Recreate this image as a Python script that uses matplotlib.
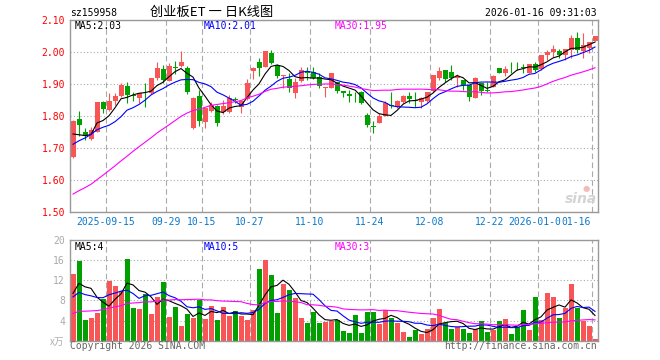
import matplotlib
matplotlib.use("Agg")
import matplotlib.pyplot as plt
import numpy as np
import pandas as pd

# ==========================================
# DATA
# ==========================================
dates = [
    "2025-09-05", "2025-09-08", "2025-09-09", "2025-09-10", "2025-09-11", "2025-09-12",
    "2025-09-15", "2025-09-16", "2025-09-17", "2025-09-18", "2025-09-19", "2025-09-22",
    "2025-09-23", "2025-09-24", "2025-09-25", "2025-09-26", "2025-09-29", "2025-09-30",
    "2025-10-09", "2025-10-10", "2025-10-13", "2025-10-14", "2025-10-15", "2025-10-16",
    "2025-10-17", "2025-10-20", "2025-10-21", "2025-10-22", "2025-10-23", "2025-10-24",
    "2025-10-27", "2025-10-28", "2025-10-29", "2025-10-30", "2025-10-31", "2025-11-03",
    "2025-11-04", "2025-11-05", "2025-11-06", "2025-11-07", "2025-11-10", "2025-11-11",
    "2025-11-12", "2025-11-13", "2025-11-14", "2025-11-17", "2025-11-18", "2025-11-19",
    "2025-11-20", "2025-11-21", "2025-11-24", "2025-11-25", "2025-11-26", "2025-11-27",
    "2025-11-28", "2025-12-01", "2025-12-02", "2025-12-03", "2025-12-04", "2025-12-05",
    "2025-12-08", "2025-12-09", "2025-12-10", "2025-12-11", "2025-12-12", "2025-12-15",
    "2025-12-16", "2025-12-17", "2025-12-18", "2025-12-19", "2025-12-22", "2025-12-23",
    "2025-12-24", "2025-12-25", "2025-12-26", "2025-12-29", "2025-12-30", "2025-12-31",
    "2026-01-05", "2026-01-06", "2026-01-07", "2026-01-08", "2026-01-09", "2026-01-12",
    "2026-01-13", "2026-01-14", "2026-01-15", "2026-01-16",
]

opens = [
    1.672, 1.791, 1.750, 1.729, 1.751, 1.842, 1.819, 1.847, 1.861, 1.892,
    1.864, 1.857, 1.873, 1.873, 1.920, 1.947, 1.908, 1.952, 1.955, 1.949,
    1.761, 1.863, 1.782, 1.816, 1.832, 1.813, 1.813, 1.854, 1.829, 1.852,
    1.939, 1.970, 1.952, 1.998, 1.959, 1.926, 1.916, 1.871, 1.908, 1.939,
    1.936, 1.923, 1.887, 1.887, 1.907, 1.879, 1.869, 1.860, 1.876, 1.803,
    1.769, 1.779, 1.800, 1.834, 1.829, 1.843, 1.863, 1.850, 1.842, 1.847,
    1.878, 1.920, 1.942, 1.936, 1.920, 1.912, 1.897, 1.855, 1.902, 1.881,
    1.891, 1.949, 1.933, 1.957, 1.957, 1.954, 1.935, 1.961, 1.947, 1.989,
    2.001, 2.003, 1.991, 2.006, 2.045, 2.003, 2.012, 2.034,
]
highs = [
    1.787, 1.814, 1.761, 1.765, 1.842, 1.847, 1.873, 1.873, 1.902, 1.907,
    1.876, 1.872, 1.902, 1.920, 1.970, 1.959, 1.964, 1.973, 2.004, 1.955,
    1.860, 1.881, 1.824, 1.844, 1.835, 1.850, 1.865, 1.859, 1.847, 1.915,
    1.954, 1.980, 2.003, 2.006, 1.961, 1.929, 1.934, 1.917, 1.952, 1.952,
    1.952, 1.934, 1.889, 1.933, 1.907, 1.879, 1.881, 1.876, 1.879, 1.808,
    1.784, 1.810, 1.848, 1.876, 1.850, 1.866, 1.876, 1.876, 1.858, 1.876,
    1.928, 1.954, 1.944, 1.959, 1.930, 1.912, 1.897, 1.923, 1.902, 1.907,
    1.928, 1.951, 1.957, 1.970, 1.970, 1.961, 1.961, 1.970, 1.991, 2.006,
    2.022, 2.009, 2.009, 2.053, 2.064, 2.058, 2.032, 2.050,
]
lows = [
    1.669, 1.737, 1.725, 1.725, 1.748, 1.808, 1.814, 1.834, 1.859, 1.840,
    1.845, 1.840, 1.829, 1.868, 1.913, 1.902, 1.908, 1.932, 1.953, 1.869,
    1.758, 1.769, 1.761, 1.812, 1.767, 1.805, 1.810, 1.841, 1.810, 1.850,
    1.915, 1.926, 1.952, 1.962, 1.920, 1.887, 1.876, 1.855, 1.906, 1.913,
    1.914, 1.887, 1.859, 1.887, 1.871, 1.859, 1.842, 1.843, 1.838, 1.765,
    1.745, 1.777, 1.798, 1.824, 1.824, 1.840, 1.840, 1.829, 1.824, 1.842,
    1.876, 1.913, 1.905, 1.913, 1.891, 1.881, 1.847, 1.855, 1.865, 1.876,
    1.891, 1.933, 1.926, 1.933, 1.944, 1.933, 1.933, 1.938, 1.944, 1.975,
    1.985, 1.980, 1.975, 1.980, 1.996, 1.980, 1.996, 2.034,
]
closes = [
    1.784, 1.770, 1.737, 1.756, 1.842, 1.822, 1.845, 1.861, 1.897, 1.864,
    1.861, 1.871, 1.871, 1.920, 1.951, 1.913, 1.957, 1.950, 1.969, 1.876,
    1.855, 1.785, 1.824, 1.834, 1.777, 1.831, 1.855, 1.850, 1.845, 1.904,
    1.951, 1.951, 2.003, 1.964, 1.926, 1.929, 1.887, 1.907, 1.943, 1.934,
    1.918, 1.892, 1.889, 1.933, 1.879, 1.873, 1.861, 1.858, 1.840, 1.770,
    1.766, 1.800, 1.840, 1.831, 1.847, 1.863, 1.853, 1.845, 1.855, 1.876,
    1.928, 1.941, 1.915, 1.920, 1.926, 1.895, 1.860, 1.918, 1.878, 1.879,
    1.926, 1.933, 1.947, 1.955, 1.955, 1.949, 1.961, 1.944, 1.991, 2.001,
    2.009, 1.991, 2.009, 2.045, 2.006, 2.022, 2.032, 2.050,
]
volumes = [
    13.2, 15.9, 4.1, 4.5, 5.5, 8.3, 11.9, 10.9, 9.9, 16.2,
    6.5, 6.3, 9.3, 5.3, 8.7, 11.7, 4.7, 6.7, 2.9, 5.3,
    4.5, 8.1, 4.3, 6.9, 4.1, 6.7, 4.9, 5.9, 4.9, 4.1,
    6.1, 14.2, 16.1, 13.0, 5.5, 11.3, 10.1, 8.5, 4.5, 3.5,
    5.7, 3.5, 3.7, 3.9, 4.2, 1.9, 1.5, 5.1, 1.5, 5.7,
    5.7, 3.3, 6.0, 4.5, 3.5, 1.7, 0.7, 2.1, 1.3, 2.3,
    4.5, 6.3, 3.5, 2.3, 2.7, 2.3, 1.5, 2.3, 3.9, 1.7,
    2.1, 3.9, 4.3, 1.3, 2.7, 6.1, 2.1, 8.7, 4.1, 9.5,
    8.7, 4.5, 6.5, 11.3, 6.5, 4.0, 2.9, 0.3,
]

# sessions before the visible window (only feed the moving averages)
lead_close = [
    1.451, 1.453, 1.438, 1.413, 1.400, 1.407, 1.421, 1.431, 1.425, 1.407,
    1.435, 1.450, 1.505, 1.498, 1.528, 1.571, 1.558, 1.572, 1.565, 1.617,
    1.660, 1.650, 1.640, 1.700, 1.744, 1.782, 1.750, 1.740, 1.660,
]
lead_volume = [
    3.0, 3.2, 2.8, 3.5, 2.6, 3.0, 3.4, 3.1, 2.9, 3.6,
    4.0, 4.5, 5.8, 4.2, 4.6, 5.2, 3.9, 4.1, 3.6, 4.0,
    6.9, 8.5, 7.0, 8.8, 8.8, 5.9, 7.6, 6.0, 14.3,
]

tick_dates = ["2025-09-15", "2025-09-29", "2025-10-15", "2025-10-27", "2025-11-10",
              "2025-11-24", "2025-12-08", "2025-12-22", "2026-01-05", "2026-01-16"]
tick_labels = ["2025-09-15", "09-29", "10-15", "10-27", "11-10",
               "11-24", "12-08", "12-22", "2026-01-05", "01-16"]
price_ticks = [1.50, 1.60, 1.70, 1.80, 1.90, 2.00, 2.10]
volume_ticks = [4, 8, 12, 16, 20]

# ==========================================
# STYLE
# ==========================================
RED = "#f85656"
GREEN = "#00a000"
GRID = "#aaaaaa"
BORDER = "#999999"
BLUE_TXT = "#0a78cc"
MONO = "DejaVu Sans Mono"
CJK = ["Noto Sans CJK SC", "DejaVu Sans"]
W, H = 660, 360


def moving_avg(lead, values, n):
  """Rolling mean over lead + visible values, returned for the visible part."""
  s = pd.Series(list(lead) + list(values), dtype=float)
  return s.rolling(n).mean().to_numpy()[len(lead):]


def px(x, y):
  """Pixel coordinates (top-left origin) to figure fraction."""
  return x / W, 1 - y / H


def style_axes(ax, yticks, ylim, ycolor):
  ax.set_xlim(-0.5, len(dates) - 0.5)
  ax.set_ylim(*ylim)
  ax.set_xticks([dates.index(d) - 0.5 for d in tick_dates])
  ax.set_yticks(yticks)
  ax.xaxis.grid(True, color=GRID, lw=0.8, ls=(0, (5, 3)))
  ax.yaxis.grid(True, color=GRID, lw=0.8, ls=(0, (1, 2)))
  ax.set_axisbelow(True)
  ax.tick_params(length=0)
  ax.tick_params(axis="y", pad=3.6, labelcolor=ycolor, labelsize=7)
  for sp in ax.spines.values():
    sp.set_color(BORDER)
    sp.set_linewidth(1.0)


x = np.arange(len(dates))
o = np.array(opens)
c = np.array(closes)
up = c >= o
cols = np.where(up, RED, GREEN)

fig = plt.figure(figsize=(W / 100, H / 100), dpi=100)
plt.rcParams["font.family"] = MONO

ax = fig.add_axes([70 / W, 1 - 211.7 / H, 528 / W, 191.7 / H])
axv = fig.add_axes([70 / W, 1 - 340.7 / H, 528 / W, 100.7 / H])

# ---- price panel ----
style_axes(ax, price_ticks, (1.50, 2.10), "red")
ax.set_yticklabels([f"{t:.2f}" for t in price_ticks])
ax.set_xticklabels(tick_labels)
ax.tick_params(axis="x", pad=3.5, labelcolor=BLUE_TXT, labelsize=7)
# the last date label is pushed left to stay inside the frame, covering the previous one
last = ax.get_xticklabels()[-1]
last.set_horizontalalignment("right")
last.set_x(last.get_position()[0])
last.set_bbox(dict(facecolor="white", edgecolor="none", pad=0))
last_tick = ax.xaxis.get_major_ticks()[-1]
last_tick.label1.set_ha("right")
from matplotlib.transforms import ScaledTranslation
last_tick.label1.set_transform(last_tick.label1.get_transform()
                               + ScaledTranslation(-1.5 / 100, 0, fig.dpi_scale_trans))

ax.vlines(x, lows, highs, colors=cols, lw=0.8)
ax.bar(x, np.maximum(np.abs(c - o), 0.0018), bottom=np.minimum(o, c),
       width=5 / 6, color=cols, linewidth=0)
ax.plot(x, moving_avg(lead_close, closes, 5), color="black", lw=0.8)
ax.plot(x, moving_avg(lead_close, closes, 10), color="#0000ff", lw=0.8)
ax.plot(x, moving_avg(lead_close, closes, 30), color="#ff00ff", lw=0.8)

# ---- volume panel ----
style_axes(axv, volume_ticks, (0, 20), "#aaaaaa")
axv.set_yticklabels([str(t) for t in volume_ticks])
axv.set_xticklabels([])
axv.bar(x, volumes, width=5 / 6, color=cols, linewidth=0)
axv.plot(x, moving_avg(lead_volume, volumes, 5), color="black", lw=0.8)
axv.plot(x, moving_avg(lead_volume, volumes, 10), color="#0000ff", lw=0.8)
axv.plot(x, moving_avg(lead_volume, volumes, 30), color="#ff00ff", lw=0.8)

# ---- texts ----
fig.text(*px(70, 13), "sz159958", fontsize=7, va="center", ha="left")
fig.text(*px(150, 12), "创业板ET 一 日K线图", fontsize=9.5, va="center",
         ha="left", family=CJK)
fig.text(*px(597, 13), "2026-01-16 09:31:03", fontsize=7, va="center", ha="right")

for xp, txt, col in [(75, "MA5:2.03", "black"), (204, "MA10:2.01", "#0000ff"),
                     (335, "MA30:1.95", "#ff00ff")]:
  fig.text(*px(xp, 26), txt, fontsize=7, color=col, va="center", ha="left")
for xp, txt, col in [(75, "MA5:4", "black"), (204, "MA10:5", "#0000ff"),
                     (335, "MA30:3", "#ff00ff")]:
  fig.text(*px(xp, 246.5), txt, fontsize=7, color=col, va="center", ha="left")

fig.text(*px(581, 199), "sina", fontsize=10, color="#d4d4d4", style="italic",
         weight="bold", va="center", ha="center", family="DejaVu Sans")
fig.text(*px(586, 188), "●", fontsize=6, color="#f2bcbc", va="center",
         ha="center", family="DejaVu Sans")
fig.text(*px(64, 342), "x万", fontsize=7, color="#b0b0b0", va="center",
         ha="right", family=CJK)
fig.text(*px(70, 346), "Copyright 2026 SINA.COM", fontsize=7, color="#666666",
         va="center", ha="left")
fig.text(*px(597, 346), "http://finance.sina.com.cn", fontsize=7,
         color="#666666", va="center", ha="right")

fig.savefig("out.png", dpi=100)
